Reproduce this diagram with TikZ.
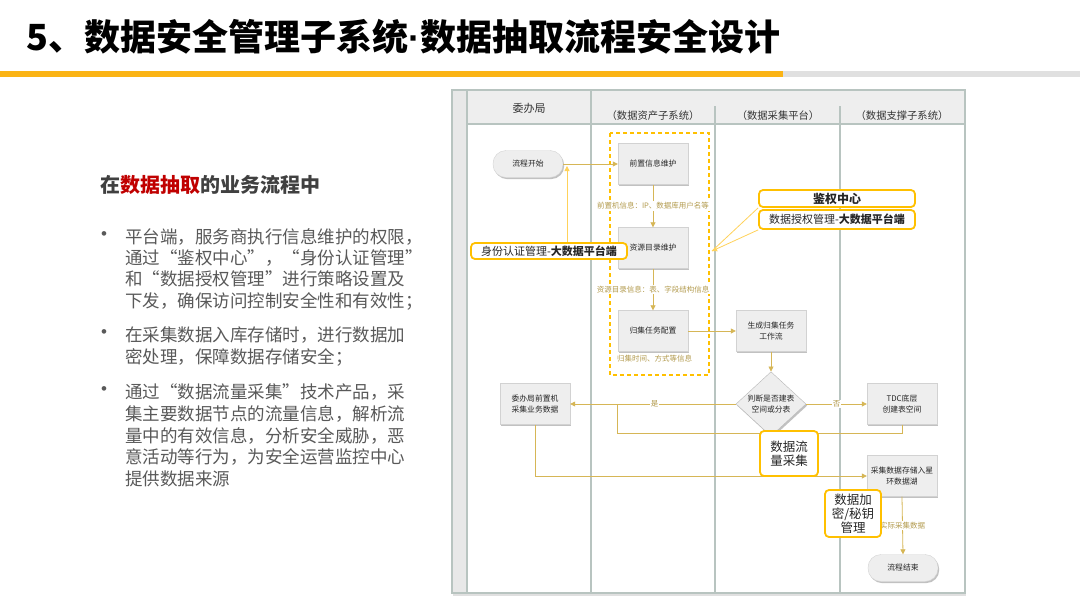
\documentclass[tikz,border=0pt]{standalone}
\usepackage{fontspec}
\setmainfont{Noto Sans CJK SC}
\newfontfamily\latinf{Liberation Sans}
\usetikzlibrary{arrows.meta,shapes.geometric,shadows,calc}
\definecolor{lanec}{HTML}{B8C4C0}
\definecolor{headfill}{HTML}{EEEEEE}
\definecolor{boxfill}{HTML}{EEEEEE}
\definecolor{boxdraw}{HTML}{D2D2D2}
\definecolor{flow}{HTML}{D6B656}
\definecolor{flowtxt}{HTML}{B39B4E}
\definecolor{hl}{HTML}{FFC000}
\definecolor{hlline}{HTML}{FFD25A}
\definecolor{barc}{HTML}{FBB415}
\definecolor{bargray}{HTML}{E0E0E0}
\definecolor{textgray}{HTML}{595959}
\definecolor{headgray}{HTML}{404040}
\definecolor{darkred}{HTML}{C00000}
\begin{document}
\begin{tikzpicture}[x=1pt,y=-1pt,
  bodytxt/.style={anchor=west,inner sep=0,text=textgray,font=\fontsize{17.5}{20}\selectfont},
  bulletdot/.style={inner sep=0,text=textgray,font=\latinf\fontsize{17}{18}\selectfont},
  lanehead/.style={inner sep=0,text=black!80,font=\fontsize{10.3}{12}\selectfont},
  procbox/.style={draw=boxdraw,fill=boxfill,minimum width=70pt,minimum height=41pt,inner sep=1pt,align=center,
    font=\fontsize{7.8}{10.5}\selectfont,text=black!85,
    drop shadow={shadow xshift=1.2pt,shadow yshift=-1.6pt,fill=black!40,opacity=.6}},
  termbox/.style={procbox,rounded corners=13pt,minimum height=27pt},
  decbox/.style={diamond,draw=black!28,fill=boxfill,minimum width=70pt,minimum height=42pt,inner sep=0,align=center,
    font=\fontsize{7.8}{10.5}\selectfont,text=black!85,
    drop shadow={shadow xshift=1.2pt,shadow yshift=-1.6pt,fill=black!40,opacity=.6}},
  flowline/.style={draw=flow,line width=0.8pt},
  flowarrow/.style={flowline,-{Triangle[width=5pt,length=5pt]}},
  flowlabel/.style={text=flowtxt,font=\fontsize{7.5}{9}\selectfont,inner sep=1pt},
  hlbox/.style={draw=hl,line width=1.8pt,rounded corners=4pt,inner sep=0,fill=white,text=black!85},
  hlarrow/.style={draw=hlline,line width=0.8pt},
  lane/.style={draw=lanec,line width=1.5pt}
]
\useasboundingbox (0,0) rectangle (1080,608);
\fill[white] (0,0) rectangle (1080,608);

% ---------- title ----------
\node[anchor=west,inner sep=0,font=\fontsize{36}{36}\selectfont\bfseries] (title) at (26,37)
  {5、数据安全管理子系统{\latinf\bfseries ·}数据抽取流程安全设计};
\fill[barc] (0,71) rectangle (783,77);
\fill[bargray] (783,71) rectangle (1080,77);

% ---------- left text ----------
\node[anchor=west,inner sep=0,text=headgray,font=\fontsize{20}{22}\selectfont\bfseries] (heading) at (100,185)
  {在\textcolor{darkred}{数据抽取}的业务流程中};

\node[bulletdot] (d1) at (104,236) {•};
\node[bodytxt] (b1a) at (125,237) {平台端，服务商执行信息维护的权限，};
\node[bodytxt] (b1b) at (125,258) {\makebox[296pt][l]{通过“鉴权中心”，\hfill“身份认证管理”}};
\node[bodytxt] (b1c) at (125,279) {和“数据授权管理”进行策略设置及};
\node[bodytxt] (b1d) at (125,301) {下发，确保访问控制安全性和有效性；};

\node[bulletdot] (d2) at (104,334) {•};
\node[bodytxt] (b2a) at (125,335) {在采集数据入库存储时，进行数据加};
\node[bodytxt] (b2b) at (125,357) {密处理，保障数据存储安全；};

\node[bulletdot] (d3) at (104,391) {•};
\node[bodytxt] (b3a) at (125,392) {通过“数据流量采集”技术产品，采};
\node[bodytxt] (b3b) at (125,414) {集主要数据节点的流量信息，解析流};
\node[bodytxt] (b3c) at (125,436) {量中的有效信息，分析安全威胁，恶};
\node[bodytxt] (b3d) at (125,457) {意活动等行为，为安全运营监控中心};
\node[bodytxt] (b3e) at (125,479) {提供数据来源};

% ---------- swimlane frame ----------
\fill[headfill] (467,90) rectangle (965,124);
\fill[black!9] (452,90) rectangle (467,593);
\fill[black!12] (453,593) rectangle (966,596);
\draw[lane] (452,90) rectangle (965,593);
\draw[lane] (467,90) -- (467,593);
\draw[lane] (467,124) -- (965,124);
\draw[lane] (591,90) -- (591,593);
\draw[lane] (715,106) -- (715,593);
\draw[lane] (840,106) -- (840,593);

\node[lanehead,font=\fontsize{11}{12}\selectfont] (h1) at (529,108) {委办局};
\node[lanehead] (h2) at (653,116) {（数据资产子系统）};
\node[lanehead] (h3) at (778,116) {（数据采集平台）};
\node[lanehead] (h4) at (902,116) {（数据支撑子系统）};

% dashed group
\draw[hl,line width=1.2pt,dash pattern=on 4pt off 3pt] (610,133) rectangle (709,375);

% ---------- process nodes ----------
\node[termbox] (start) at (528,164) {流程开始};
\node[procbox] (pre) at (653,164) {前置信息维护};
\node[procbox] (res) at (653,248) {资源目录维护};
\node[procbox] (cfg) at (653,331) {归集任务配置};
\node[procbox] (gen) at (771,331) {生成归集任务\\工作流};
\node[decbox] (dec) at (771,404) {判断是否建表\\空间或分表};
\node[procbox] (tdc) at (902,404) {TDC底层\\创建表空间};
\node[procbox] (wbj) at (535,404) {委办局前置机\\采集业务数据};
\node[procbox] (store) at (902,476) {采集数据存储入星\\环数据湖};
\node[termbox] (end) at (903,568) {流程结束};

% ---------- connectors ----------
\draw[flowarrow] (start.east) -- (pre.west);
\draw[flowarrow] (pre.south) -- node[flowlabel,fill=white] (l1) {前置机信息：IP、数据库用户名等} (res.north);
\draw[flowarrow] (res.south) -- node[flowlabel,fill=white] (l2) {资源目录信息：表、字段结构信息} (cfg.north);
\node[flowlabel,anchor=west] (l3) at (616,359) {归集时间、方式等信息};
\draw[flowarrow] (cfg.east) -- (gen.west);
\draw[flowarrow] (gen.south) -- (dec.north);
\draw[flowarrow] (dec.west) -- node[flowlabel,fill=white,pos=0.49] (yes) {是} (wbj.east);
\draw[flowarrow] (dec.east) -- node[flowlabel,fill=white,pos=0.5] (no) {否} (tdc.west);
\coordinate (join) at (617,404);
\draw[flowline] (tdc.south) -- ++(0,9) -| (join);
\draw[flowarrow] (wbj.south) |- (store.west);
\draw[flowarrow] (store.south) -- node[flowlabel,fill=white] (l4) {实际采集数据} (end.north);

% ---------- highlight callouts ----------
\node[hlbox,minimum width=156pt,minimum height=16pt,font=\fontsize{11}{12}\selectfont] (auth) at (549,251)
  {身份认证管理-{\bfseries 大数据平台端}};
\coordinate (authtip) at (567,166);
\draw[hlarrow,-{Triangle[width=5pt,length=5pt]}] (auth.north -| authtip) -- (authtip);

\coordinate (sqtip) at (712,251);
\node[hlbox,minimum width=156pt,minimum height=17pt,font=\fontsize{12}{13}\selectfont\bfseries] (jq) at (837,198.5) {鉴权中心};
\node[hlbox,minimum width=156pt,minimum height=19pt,font=\fontsize{11}{12}\selectfont] (sq) at (837,219.5)
  {数据授权管理-{\bfseries 大数据平台端}};
\draw[hlarrow] (jq.south west) -- (sqtip);
\draw[hlarrow,-{Triangle[width=5pt,length=5pt]}] (sq.south west) -- (sqtip);

\node[hlbox,minimum width=58pt,minimum height=45pt,align=center,font=\fontsize{12.5}{14.5}\selectfont] (traffic) at (789,453.5)
  {数据流\\量采集};
\node[hlbox,minimum width=56pt,minimum height=47pt,align=center,font=\fontsize{12.5}{14}\selectfont] (enc) at (853,513.5)
  {数据加\\密/秘钥\\管理};
\end{tikzpicture}
\end{document}
